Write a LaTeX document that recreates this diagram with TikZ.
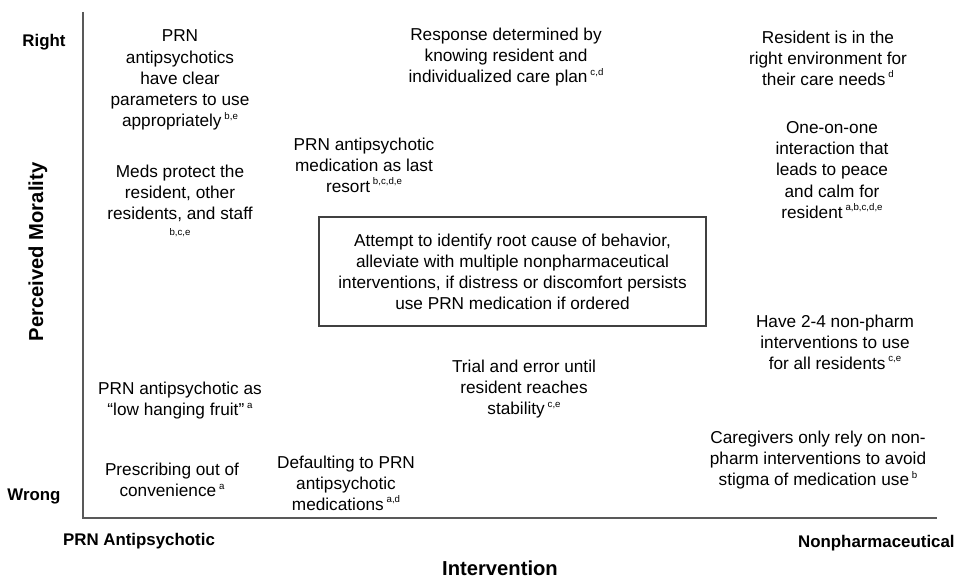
\documentclass[tikz,border=0pt]{standalone}
\usepackage{fontspec}
\setmainfont{Liberation Sans}
\usetikzlibrary{positioning}

\newcommand{\refs}[1]{\,\raisebox{0.8ex}{\fontsize{5.5}{6}\selectfont #1}}

\begin{document}
\begin{tikzpicture}[x=0.02cm, y=-0.02cm,
  txt/.style={align=center, inner sep=0pt, font=\fontsize{9.8}{12}\selectfont},
  lbl/.style={inner sep=0pt, font=\fontsize{9.6}{11}\selectfont\bfseries},
  ttl/.style={inner sep=0pt, font=\fontsize{11.5}{13}\selectfont\bfseries},
  axis/.style={draw=black!65, line width=0.8pt}]
  \useasboundingbox (0,0) rectangle (955,577);

  % axes
  \coordinate (o) at (83,518);
  \coordinate (ytop) at (83,12);
  \coordinate (xend) at (937,518);
  \draw[axis] (ytop) -- (o) -- (xend);

  \node[lbl] (right) at (44,42) {Right};
  \node[lbl] (wrong) at (34,496) {Wrong};
  \node[ttl, rotate=90] (ylab) at (38,252) {Perceived Morality};
  \node[lbl] (prn) at (139,541) {PRN Antipsychotic};
  \node[lbl, anchor=east] (nonph) at (955,543) {Nonpharmaceutical};
  \node[ttl] (xlab) at (500,568) {Intervention};

  % statements
  \node[txt] (clear) at (180,80) {PRN\\antipsychotics\\have clear\\parameters to use\\appropriately\refs{b,e}};
  \node[txt] (protect) at (180,201) {Meds protect the\\resident, other\\residents, and staff\\[-3pt]{\fontsize{5.5}{6}\selectfont b,c,e}};
  \node[txt] (last) at (364,165) {PRN antipsychotic\\medication as last\\resort\refs{b,c,d,e}};
  \node[txt] (knowing) at (506,57) {Response determined by\\knowing resident and\\individualized care plan\refs{c,d}};
  \node[txt] (env) at (828,58) {Resident is in the\\right environment for\\their care needs\refs{d}};
  \node[txt] (oneone) at (832,170) {One-on-one\\interaction that\\leads to peace\\and calm for\\resident\refs{a,b,c,d,e}};
  \node[txt, draw=black!75, line width=0.7pt, minimum width=7.74cm, minimum height=2.18cm] (root) at (512.5,271.5)
    {Attempt to identify root cause of behavior,\\alleviate with multiple nonpharmaceutical\\interventions, if distress or discomfort persists\\use PRN medication if ordered};
  \node[txt] (twofour) at (835,342) {Have 2-4 non-pharm\\interventions to use\\for all residents\refs{c,e}};
  \node[txt] (trial) at (524,389) {Trial and error until\\resident reaches\\stability\refs{c,e}};
  \node[txt] (fruit) at (180,401) {PRN antipsychotic as\\“low hanging fruit”\refs{a}};
  \node[txt] (conv) at (172,480) {Prescribing out of\\convenience\refs{a}};
  \node[txt] (default) at (346,483) {Defaulting to PRN\\antipsychotic\\medications\refs{a,d}};
  \node[txt] (stigma) at (818,460) {Caregivers only rely on non-\\pharm interventions to avoid\\stigma of medication use\refs{b}};
\end{tikzpicture}
\end{document}
